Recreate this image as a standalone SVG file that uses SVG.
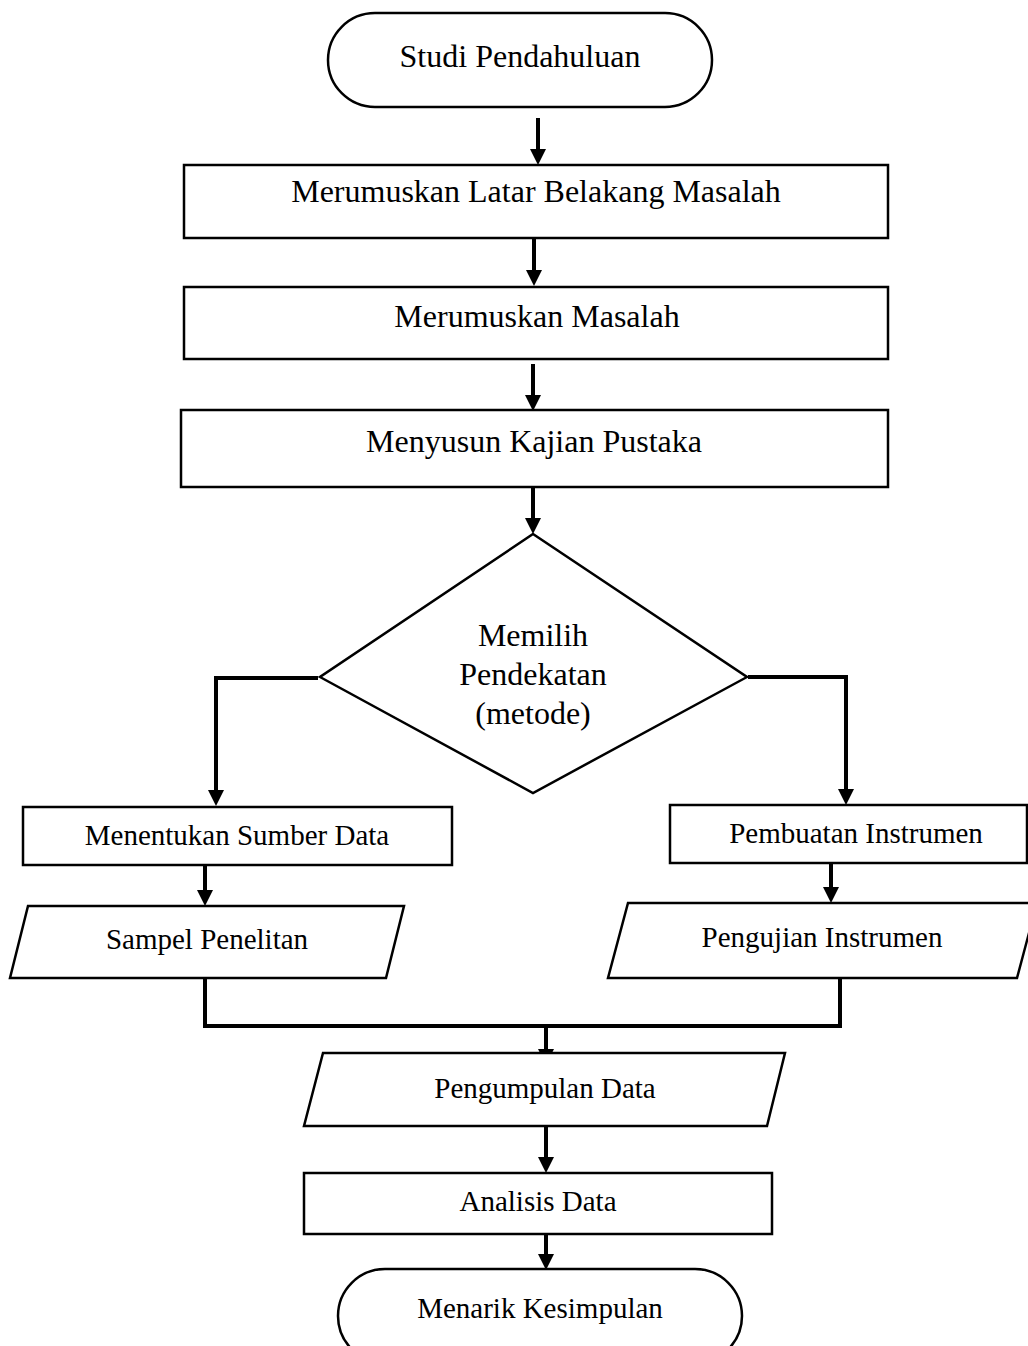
<svg xmlns="http://www.w3.org/2000/svg" xmlns:xlink="http://www.w3.org/1999/xlink" width="1028" height="1346" viewBox="0 0 1028 1346">
<style>
.s{fill:#fff;stroke:#000;stroke-width:2.5}
.c{fill:none;stroke:#000;stroke-width:4}
.t{font-family:"Liberation Serif","Times New Roman",serif;fill:#000;text-anchor:middle}
.b{font-size:32px}
.m{font-size:29px}
</style>
<defs>
<path id="hd" d="M-8,-16 L8,-16 L0,0 Z" fill="#000"/>
</defs>
<rect width="1028" height="1346" fill="#fff"/>
<g id="connectors">
<line class="c" x1="538" y1="118" x2="538" y2="152"/><use href="#hd" xlink:href="#hd" x="538" y="165"/>
<line class="c" x1="534" y1="238" x2="534" y2="272"/><use href="#hd" xlink:href="#hd" x="534" y="286"/>
<line class="c" x1="533" y1="364" x2="533" y2="397"/><use href="#hd" xlink:href="#hd" x="533" y="411"/>
<line class="c" x1="533" y1="487" x2="533" y2="520"/><use href="#hd" xlink:href="#hd" x="533" y="534"/>
<polyline class="c" points="318,678 216,678 216,792"/><use href="#hd" xlink:href="#hd" x="216" y="806"/>
<polyline class="c" points="748,677 846,677 846,791"/><use href="#hd" xlink:href="#hd" x="846" y="805"/>
<line class="c" x1="205" y1="858" x2="205" y2="892"/><use href="#hd" xlink:href="#hd" x="205" y="906"/>
<line class="c" x1="831" y1="855" x2="831" y2="889"/><use href="#hd" xlink:href="#hd" x="831" y="903"/>
<polyline class="c" points="205,978 205,1026 840,1026 840,978"/>
<line class="c" x1="546" y1="1026" x2="546" y2="1051"/><use href="#hd" xlink:href="#hd" x="546" y="1065"/>
<line class="c" x1="546" y1="1126" x2="546" y2="1159"/><use href="#hd" xlink:href="#hd" x="546" y="1173"/>
<line class="c" x1="546" y1="1223" x2="546" y2="1256"/><use href="#hd" xlink:href="#hd" x="546" y="1270"/>
</g>
<g id="studi">
<rect class="s" x="328" y="13" width="384" height="94" rx="47" ry="47"/>
<text class="t b" x="520" y="67">Studi Pendahuluan</text>
</g>
<g id="latar">
<rect class="s" x="184" y="165" width="704" height="73"/>
<text class="t b" x="536" y="202">Merumuskan Latar Belakang Masalah</text>
</g>
<g id="masalah">
<rect class="s" x="184" y="287" width="704" height="72"/>
<text class="t b" x="537" y="327">Merumuskan Masalah</text>
</g>
<g id="kajian">
<rect class="s" x="181" y="410" width="707" height="77"/>
<text class="t b" x="534" y="452">Menyusun Kajian Pustaka</text>
</g>
<g id="pendekatan">
<polygon class="s" points="533,534 747,677 533,793 320,677"/>
<text class="t b" x="533" y="646">Memilih</text>
<text class="t b" x="533" y="685">Pendekatan</text>
<text class="t b" x="533" y="724">(metode)</text>
</g>
<g id="sumber">
<rect class="s" x="23" y="807" width="429" height="58"/>
<text class="t m" x="237" y="845">Menentukan Sumber Data</text>
</g>
<g id="sampel">
<polygon class="s" points="28,906 404,906 386,978 10,978"/>
<text class="t m" x="207" y="949">Sampel Penelitan</text>
</g>
<g id="pembuatan">
<rect class="s" x="670" y="805" width="357" height="58"/>
<text class="t m" x="856" y="843">Pembuatan Instrumen</text>
</g>
<g id="pengujian">
<polygon class="s" points="628,903 1037,903 1017,978 608,978"/>
<text class="t m" x="822" y="947">Pengujian Instrumen</text>
</g>
<g id="pengumpulan">
<polygon class="s" points="323,1053 785,1053 767,1126 304,1126"/>
<text class="t m" x="545" y="1098">Pengumpulan Data</text>
</g>
<g id="analisis">
<rect class="s" x="304" y="1173" width="468" height="61"/>
<text class="t m" x="538" y="1211">Analisis Data</text>
</g>
<g id="kesimpulan">
<rect class="s" x="338" y="1269" width="404" height="94" rx="47" ry="47"/>
<text class="t m" x="540" y="1318">Menarik Kesimpulan</text>
</g>
</svg>
